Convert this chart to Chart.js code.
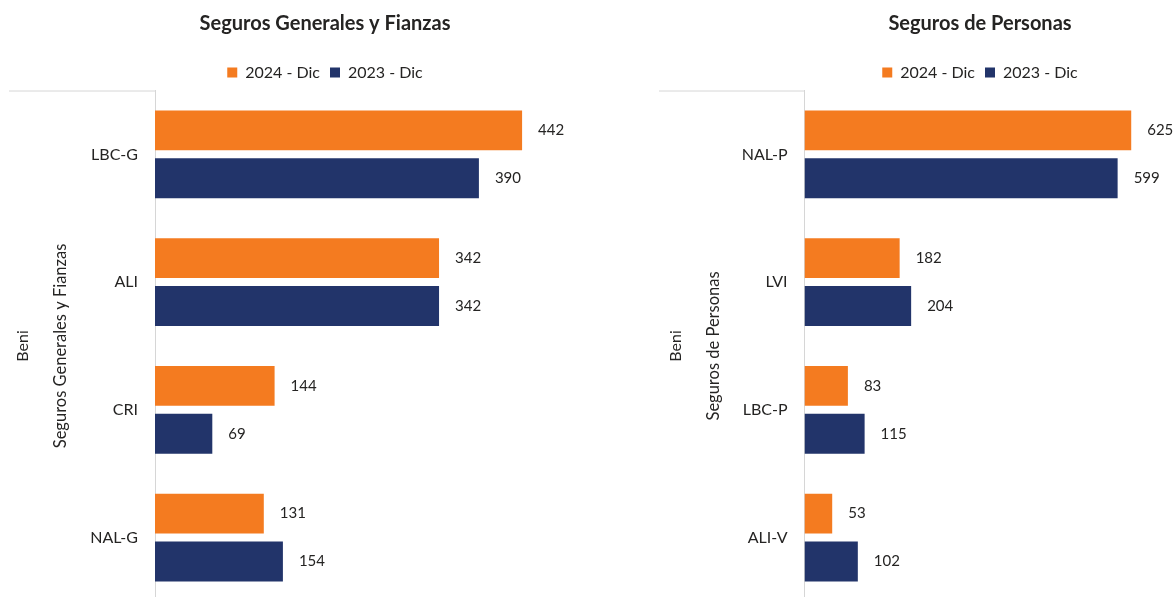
<!DOCTYPE html>
<html>
<head>
<meta charset="utf-8">
<script src="https://cdn.jsdelivr.net/npm/chart.js@4.4.1/dist/chart.umd.min.js"></script>
<style>
  body { margin: 0; background: #fff; overflow: hidden; }
  #wrap { position: relative; width: 1176px; height: 597px; overflow: hidden; }
  #generales { position: absolute; left: 0; top: 0; }
  #personas { position: absolute; left: 650px; top: 0; }
</style>
</head>
<body>
<div id="wrap">
  <canvas id="generales" width="650" height="620"></canvas>
  <canvas id="personas" width="660" height="620"></canvas>
</div>
<script>
// data
var seriesLabels = ['2024 - Dic', '2023 - Dic'];
var regionLabel = 'Beni';

var generalTitle = 'Seguros Generales y Fianzas';
var generalCats = ['LBC-G', 'ALI', 'CRI', 'NAL-G'];
var general2024 = [442, 342, 144, 131];
var general2023 = [390, 342, 69, 154];

var personasTitle = 'Seguros de Personas';
var personasCats = ['NAL-P', 'LVI', 'LBC-P', 'ALI-V'];
var personas2024 = [625, 182, 83, 53];
var personas2023 = [599, 204, 115, 102];

var orange = '#F47B20';
var navy = '#22346A';
var textColor = '#252423';
var lineColor = '#D6D6D6';

Chart.defaults.font.family = 'Lato, "Open Sans", sans-serif';
Chart.defaults.color = textColor;

// value labels at the end of each bar
var valueLabels = {
  id: 'valueLabels',
  afterDatasetsDraw: function(chart){
    var ctx = chart.ctx;
    ctx.save();
    ctx.font = '15px Lato';
    ctx.fillStyle = textColor;
    ctx.textAlign = 'left';
    ctx.textBaseline = 'middle';
    chart.data.datasets.forEach(function(ds, i){
      chart.getDatasetMeta(i).data.forEach(function(bar, j){
        ctx.fillText(ds.data[j], bar.x + 16, bar.y);
      });
    });
    ctx.restore();
  }
};

// thin line over the hierarchy labels
var topRule = {
  id: 'topRule',
  afterDraw: function(chart){
    var ctx = chart.ctx;
    var area = chart.chartArea;
    ctx.save();
    ctx.strokeStyle = lineColor;
    ctx.lineWidth = 1;
    ctx.beginPath();
    ctx.moveTo(chart.scales.y2.left + 9, area.top + 0.5);
    ctx.lineTo(area.left, area.top + 0.5);
    ctx.stroke();
    ctx.restore();
  }
};

function makeChart(id, title, cats, d24, d23, xMax, outerW, outerPad, innerW, innerPad){
  var ctx = document.getElementById(id).getContext('2d');
  return new Chart(ctx, {
    type: 'bar',
    data: {
      labels: cats,
      datasets: [{
        label: seriesLabels[0],
        data: d24,
        backgroundColor: orange,
        categoryPercentage: 0.75,
        barPercentage: 0.833
      }, {
        label: seriesLabels[1],
        data: d23,
        backgroundColor: navy,
        categoryPercentage: 0.75,
        barPercentage: 0.833
      }]
    },
    options: {
      indexAxis: 'y',
      responsive: false,
      animation: false,
      layout: { padding: 0 },
      plugins: {
        title: {
          display: true,
          text: title,
          color: textColor,
          font: { size: 20, weight: 'bold' },
          padding: { top: 12, bottom: 18.5 }
        },
        legend: {
          position: 'top',
          labels: {
            boxWidth: 10,
            boxHeight: 10,
            padding: 10,
            color: textColor,
            font: { size: 16 }
          }
        },
        tooltip: { enabled: false }
      },
      scales: {
        x: {
          display: false,
          min: 0,
          max: xMax
        },
        y: {
          type: 'category',
          position: 'left',
          weight: 0,
          grid: { display: false },
          border: { display: true, color: lineColor, width: 1 },
          ticks: { padding: 9, color: textColor, font: { size: 16 } },
          title: {
            display: true,
            text: title,
            color: textColor,
            font: { size: 16.5 },
            padding: { top: innerPad, bottom: 0 }
          },
          afterFit: function(scale){ scale.width = innerW; }
        },
        y2: {
          type: 'category',
          position: 'left',
          weight: 1,
          grid: { display: false },
          border: { display: false },
          ticks: { display: false },
          title: {
            display: true,
            text: regionLabel,
            color: textColor,
            font: { size: 16 },
            padding: { top: outerPad, bottom: 0 }
          },
          afterFit: function(scale){ scale.width = outerW; }
        }
      }
    },
    plugins: [valueLabels, topRule]
  });
}

makeChart('generales', generalTitle, generalCats, general2024, general2023, 596, 42, 13, 113, 9);
makeChart('personas', personasTitle, personasCats, personas2024, personas2023, 967, 44, 16, 110.5, 10);
</script>
</body>
</html>
